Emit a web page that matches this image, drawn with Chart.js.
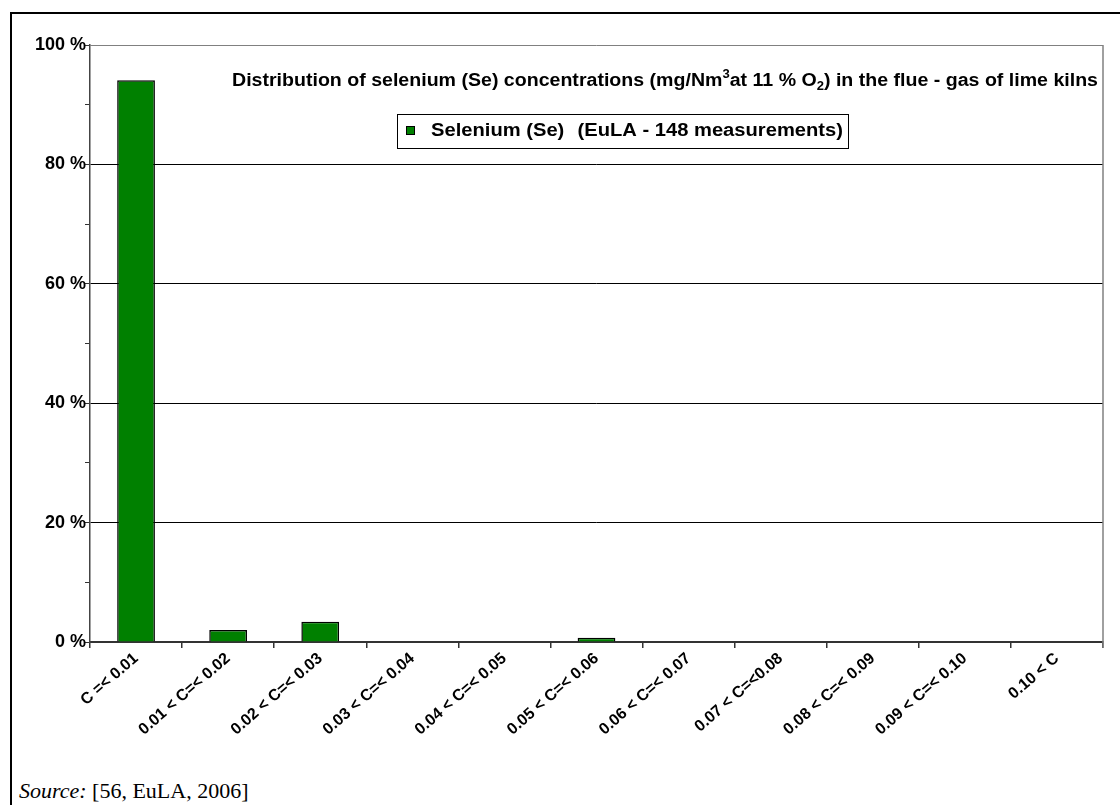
<!DOCTYPE html>
<html>
<head>
<meta charset="utf-8">
<script src="https://cdn.jsdelivr.net/npm/chart.js@4.4.1/dist/chart.umd.min.js"></script>
<style>
  html, body { margin:0; padding:0; width:1120px; height:805px; overflow:hidden; background:#fff; }
  #frame { position:absolute; left:10px; top:12px; width:1300px; height:1000px;
           border-left:2px solid #000; border-top:2px solid #000; }
  #chart { position:absolute; left:0; top:0; }
  #source { position:absolute; left:19px; top:780px; font-family:"Liberation Serif","Times New Roman",serif;
            font-size:22px; line-height:1; color:#000; white-space:nowrap; }
</style>
</head>
<body>
<div id="frame"></div>
<canvas id="chart" width="1120" height="760"></canvas>
<div id="source"><i>Source:</i> [56, EuLA, 2006]</div>
<script>
// ---- data ----
const categories = [
  "C =< 0.01", "0.01 < C=< 0.02", "0.02 < C=< 0.03", "0.03 < C=< 0.04",
  "0.04 < C=< 0.05", "0.05 < C=< 0.06", "0.06 < C=< 0.07", "0.07 < C=<0.08",
  "0.08 < C=< 0.09", "0.09 < C=< 0.10", "0.10 < C"
];
const seleniumPct = [94.1, 2.0, 3.4, 0, 0, 0.7, 0, 0, 0, 0, 0];
const seriesLabel = "Selenium (Se)";
const seriesNote = "(EuLA - 148 measurements)";
const yLabelValues = [0, 20, 40, 60, 80, 100];
const titleParts = [
  { t: "Distribution of selenium (Se) concentrations (mg/Nm", s: 0 },
  { t: "3", s: 1 },
  { t: "at 11 % O", s: 0 },
  { t: "2", s: -1 },
  { t: ") in the flue - gas of lime kilns", s: 0 }
];

const FONT = '"Liberation Sans", Arial, sans-serif';

const framePlugin = {
  id: 'framePlugin',
  afterDraw(chart) {
    const { ctx, chartArea: a } = chart;
    ctx.save();
    // right border of plot area
    ctx.strokeStyle = '#808080';
    ctx.lineWidth = 1.5;
    ctx.beginPath();
    ctx.moveTo(a.right, a.top);
    ctx.lineTo(a.right, a.bottom + 6);
    ctx.stroke();

    // title (horizontally fitted to the reference span)
    ctx.fillStyle = '#000';
    ctx.textBaseline = 'alphabetic';
    ctx.textAlign = 'left';
    let total = 0;
    for (const p of titleParts) {
      ctx.font = 'bold ' + (p.s === 0 ? 18 : 12) + 'px ' + FONT;
      total += ctx.measureText(p.t).width;
    }
    const k = (1098 - 232) / total;
    ctx.save();
    ctx.translate(232, 86);
    ctx.scale(k, 1);
    let x = 0;
    for (const p of titleParts) {
      ctx.font = 'bold ' + (p.s === 0 ? 18 : 12) + 'px ' + FONT;
      const dy = p.s === 1 ? -8 : (p.s === -1 ? 4 : 0);
      ctx.fillText(p.t, x, dy);
      x += ctx.measureText(p.t).width;
    }
    ctx.restore();

    // legend
    const ds = chart.data.datasets[0];
    const bx = 397, by = 114, bw = 451, bh = 34;
    ctx.fillStyle = '#fff';
    ctx.fillRect(bx, by, bw, bh);
    ctx.strokeStyle = '#000';
    ctx.lineWidth = 1;
    ctx.strokeRect(bx + 0.5, by + 0.5, bw, bh);
    ctx.fillStyle = ds.backgroundColor;
    ctx.fillRect(406, 126, 9, 9);
    ctx.strokeRect(406.5, 126.5, 8, 8);
    ctx.fillStyle = '#000';
    ctx.font = 'bold 18px ' + FONT;
    ctx.textBaseline = 'middle';
    ctx.save();
    ctx.translate(431, 131);
    ctx.scale(1.12, 1);
    ctx.textAlign = 'left';
    ctx.fillText(ds.label, 0, 0);
    ctx.restore();
    ctx.save();
    ctx.translate(843, 131);
    ctx.scale(1.12, 1);
    ctx.textAlign = 'right';
    ctx.fillText(seriesNote, 0, 0);
    ctx.restore();
    ctx.restore();
  }
};

new Chart(document.getElementById('chart'), {
  type: 'bar',
  data: {
    labels: categories,
    datasets: [{
      label: seriesLabel,
      data: seleniumPct,
      backgroundColor: '#008000',
      borderColor: '#000',
      borderWidth: 1.5,
      categoryPercentage: 1,
      barPercentage: 0.41
    }]
  },
  options: {
    responsive: false,
    animation: false,
    devicePixelRatio: 1,
    layout: { padding: { top: 45, right: 17, left: 0, bottom: 0 } },
    plugins: { legend: { display: false }, title: { display: false }, tooltip: { enabled: false } },
    scales: {
      x: {
        afterFit(s) { s.height = 118; },
        grid: { offset: true, drawOnChartArea: false, color: '#333', tickLength: 6, lineWidth: 1.5 },
        border: { color: '#333', width: 2 },
        ticks: {
          autoSkip: false, maxRotation: 41, minRotation: 41, padding: 1,
          color: '#000', font: { family: FONT, size: 16, weight: 'bold' }
        }
      },
      y: {
        min: 0, max: 100,
        afterFit(s) { s.width = 90; },
        afterBuildTicks(s) {
          const t = [];
          for (let v = 0; v <= 100; v += 10) t.push({ value: v });
          s.ticks = t;
        },
        grid: {
          color(ctx) {
            const v = ctx.tick ? ctx.tick.value : 0;
            if (!yLabelValues.includes(v)) return 'rgba(0,0,0,0)';
            if (v === 100) return '#808080';
            return '#000';
          },
          tickColor: '#333',
          lineWidth: 1,
          tickLength: 5
        },
        border: { color: '#444', width: 1.5 },
        ticks: {
          padding: -1,
          color: '#000',
          font: { family: FONT, size: 18, weight: 'bold' },
          callback(v) { return yLabelValues.includes(v) ? v + ' %' : ''; }
        }
      }
    }
  },
  plugins: [framePlugin]
});
</script>
</body>
</html>
